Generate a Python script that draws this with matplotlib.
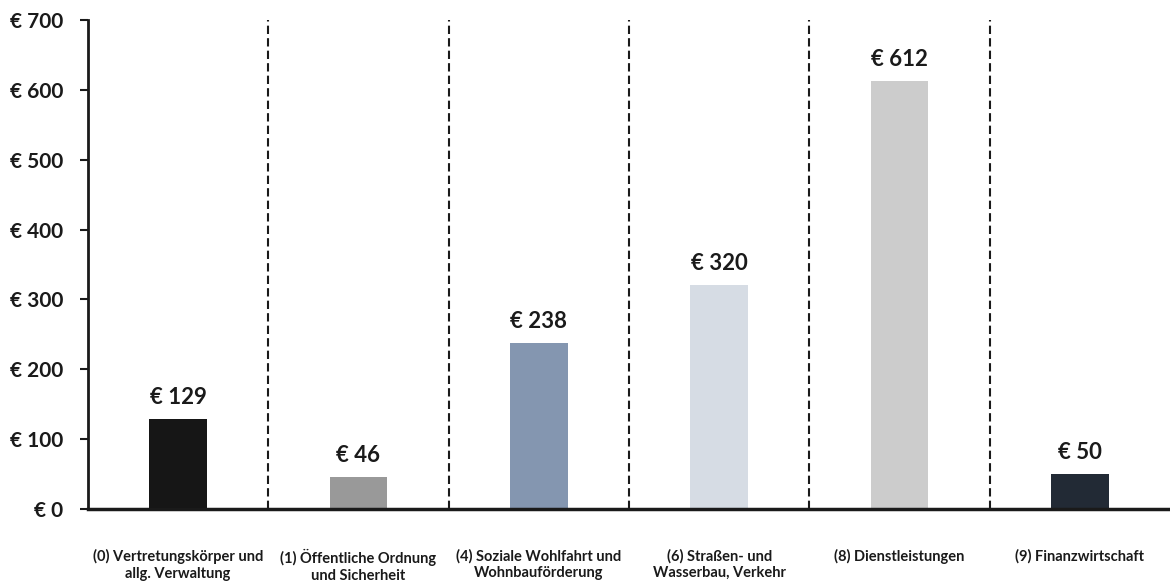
import matplotlib.pyplot as plt
from matplotlib.ticker import FuncFormatter

plt.rcParams['font.family'] = ['Lato', 'DejaVu Sans']

categories = [
    "(0) Vertretungskörper und\nallg. Verwaltung",
    "(1) Öffentliche Ordnung\nund Sicherheit",
    "(4) Soziale Wohlfahrt und\nWohnbauförderung",
    "(6) Straßen- und\nWasserbau, Verkehr",
    "(8) Dienstleistungen",
    "(9) Finanzwirtschaft",
]
values = [129, 46, 238, 320, 612, 50]
colors = ["#161616", "#999999", "#8496b0", "#d6dce4", "#cccccc", "#222a35"]

fig = plt.figure(figsize=(11.7, 5.83), dpi=100)
ax = fig.add_axes([88 / 1170, 74 / 583, 1082 / 1170, 489 / 583])

x = range(len(categories))
bars = ax.bar(x, values, width=0.32, color=colors, zorder=2)

for b, v in zip(bars, values):
    ax.annotate(f"€ {v}", (b.get_x() + b.get_width() / 2, v),
                xytext=(0, 8), textcoords="offset points",
                ha="center", va="bottom", fontsize=16, fontweight="bold",
                color="#1a1a1a")

# dashed separators between categories
for i in range(1, len(categories)):
    ax.axvline(i - 0.5, color="#1a1a1a", linestyle=(0, (4, 2)), linewidth=1.5, zorder=1)

ax.set_xlim(-0.5, len(categories) - 0.5)
ax.set_ylim(0, 700)
ax.set_yticks(range(0, 701, 100))
ax.yaxis.set_major_formatter(FuncFormatter(lambda v, p: f"€ {int(v)}"))
ax.set_xticks(list(x))
ax.set_xticklabels(categories, fontsize=10.5, fontweight="bold", color="#1a1a1a")

for lbl in ax.get_yticklabels():
    lbl.set_fontsize(15)
    lbl.set_fontweight("bold")
    lbl.set_color("#1a1a1a")

ax.tick_params(axis="x", length=0, pad=29)
ax.tick_params(axis="y", length=6, width=1.5, pad=12, color="#1a1a1a")

for s in ["top", "right"]:
    ax.spines[s].set_visible(False)
ax.spines["left"].set_linewidth(2)
ax.spines["bottom"].set_linewidth(2.5)
ax.spines["left"].set_color("#1a1a1a")
ax.spines["bottom"].set_color("#1a1a1a")

fig.savefig("out.png", dpi=100)
